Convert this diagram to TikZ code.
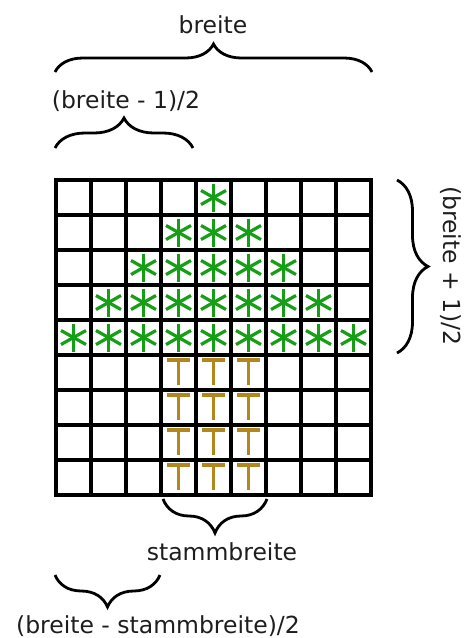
\documentclass[tikz,border=0pt]{standalone}
\usepackage{fontspec}
\setmainfont{DejaVu Sans}
\usetikzlibrary{decorations.pathreplacing}
\definecolor{leaf}{RGB}{22,158,22}
\definecolor{trunk}{RGB}{178,136,30}
\definecolor{txt}{RGB}{30,30,30}
\tikzset{
  gridline/.style={line width=3.2pt,black,line cap=rect},
  bracebox/.style={line width=2.8pt,black,decorate,decoration={brace,amplitude=#1}},
  label/.style={text=txt,font=\fontsize{23.5}{27}\selectfont,inner sep=0pt},
  leafline/.style={line width=3.2pt,leaf},
  trunkline/.style={line width=3.4pt,trunk}
}
\begin{document}
\begin{tikzpicture}[x=1pt,y=-1pt]
\useasboundingbox (0,0) rectangle (465,638);
\fill[white] (0,0) rectangle (465,638);
% star cells
\foreach \r/\a/\b in {0/4/4,1/3/5,2/2/6,3/1/7,4/0/8}{
  \foreach \c in {\a,...,\b}{
    \pgfmathsetmacro{\cx}{56+35*\c+17.5}
    \pgfmathsetmacro{\cy}{180+35*\r+17.5}
    \draw[leafline] (\cx,\cy-14) -- (\cx,\cy+14);
    \draw[leafline] (\cx-12.5,\cy-7) -- (\cx+12.5,\cy+7);
    \draw[leafline] (\cx-12.5,\cy+7) -- (\cx+12.5,\cy-7);
  }
}
% trunk cells
\foreach \r in {5,...,8}{
  \foreach \c in {3,4,5}{
    \pgfmathsetmacro{\cx}{56+35*\c+17.5}
    \pgfmathsetmacro{\cy}{180+35*\r}
    \draw[trunkline] (\cx-11.5,\cy+5) -- (\cx+11.5,\cy+5);
    \draw[trunkline] (\cx,\cy+5) -- (\cx,\cy+30);
  }
}
% grid
\foreach \i in {0,...,9}{
  \draw[gridline] (56+35*\i,180) -- (56+35*\i,495);
  \draw[gridline] (56,180+35*\i) -- (371,180+35*\i);
}
% braces
\draw[bracebox=28] (55,72) -- (372,72);
\draw[bracebox=30] (55,148) -- (193,148);
\draw[bracebox=31] (397,180) -- (397,353);
\draw[bracebox=34] (267,499) -- (163,499);
\draw[bracebox=32] (160,575) -- (55,575);
% labels
\node[label] (lbreite) at (213,25) {breite};
\node[label] (lhalf) at (126,101) {(breite - 1)/2};
\node[label,rotate=-90] (lplus) at (451,266) {(breite + 1)/2};
\node[label] (lstamm) at (222,552) {stammbreite};
\node[label] (lrest) at (158,626) {(breite - stammbreite)/2};
\end{tikzpicture}
\end{document}
